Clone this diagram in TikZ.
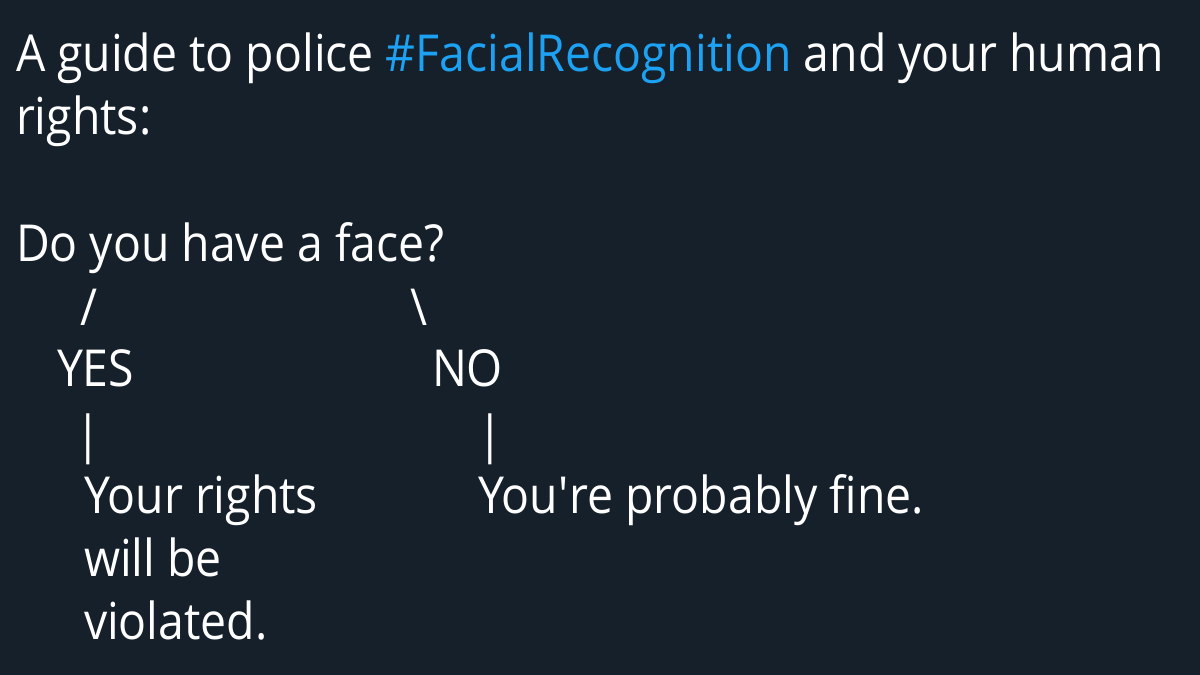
\documentclass[tikz,border=0pt]{standalone}
\usepackage{fontspec}
\setmainfont[FakeStretch=0.91]{Open Sans}
\usepackage{tikz}
\definecolor{tweetbg}{HTML}{15202B}
\definecolor{tweetlink}{HTML}{1DA1F2}
\newcommand{\LineGap}{63}

\begin{document}
\begin{tikzpicture}[x=0.02cm,y=-0.02cm,
  tweet/.style={anchor=base west,inner sep=0pt,outer sep=0pt,text=white,
    font=\fontsize{29}{36}\selectfont}]

\fill[tweetbg] (0,0) rectangle (1200,675);
\useasboundingbox (0,0) rectangle (1200,675);

\node[tweet] (intro) at (16,72) {A guide to police \textcolor{tweetlink}{\#FacialRecognition} and your human};
\node[tweet] (introb) at (16,135) {rights:};

\node[tweet] (question) at (16,262) {Do you have a face?};
\node[tweet] (slashyes) at (80,326) {/};
\node[tweet] (slashno) at (410,326) {\textbackslash};
\node[tweet] (yes) at (57,387) {YES};
\node[tweet] (no) at (432,387) {NO};
\node[tweet] (baryes) at (75,452) {|};
\node[tweet] (barno) at (477,452) {|};

\node[tweet] (violated) at (84,513) {Your rights};
\node[tweet] (violatedb) at (84,513+\LineGap) {will be};
\node[tweet] (violatedc) at (84,513+2*\LineGap) {violated.};
\node[tweet] (fine) at (478,513) {You\textquotesingle re probably fine.};

\end{tikzpicture}
\end{document}
